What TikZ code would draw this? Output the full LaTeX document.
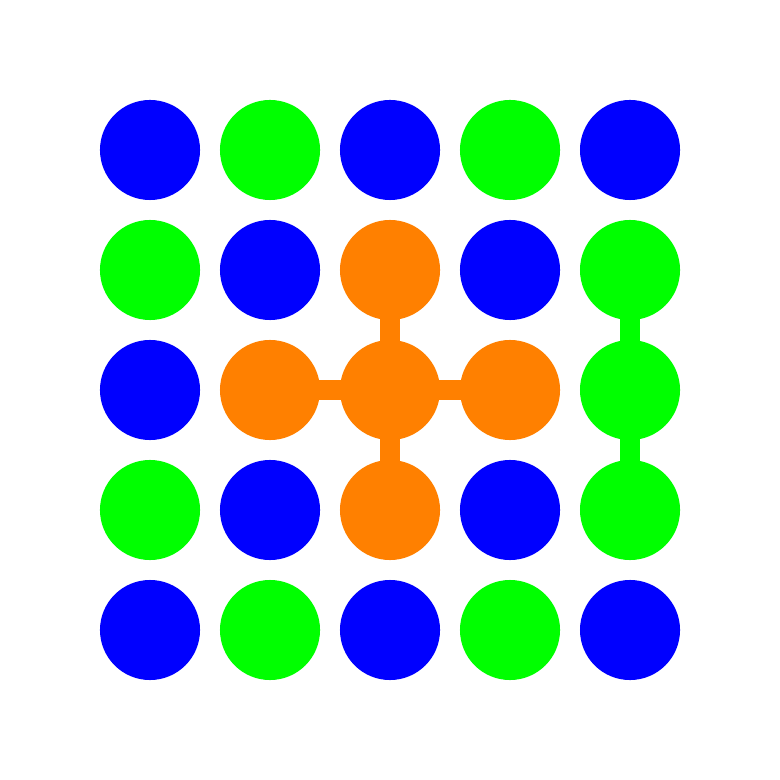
\documentclass[tikz,border=0pt]{standalone}
\usetikzlibrary{backgrounds}
\definecolor{cblue}{RGB}{0,0,255}
\definecolor{cgreen}{RGB}{0,255,0}
\definecolor{corange}{RGB}{255,128,0}
\begin{document}
\begin{tikzpicture}[x=0.01cm,y=-0.01cm,
  dot/.style={circle,minimum size=1cm,inner sep=0pt,draw=none},
  B/.style={dot,fill=cblue},
  G/.style={dot,fill=cgreen},
  O/.style={dot,fill=corange},
  olink/.style={draw=corange,line width=0.2cm},
  glink/.style={draw=cgreen,line width=0.2cm}]
\useasboundingbox (0,0) rectangle (780,780);
\foreach \r/\row in {1/{B,G,B,G,B},2/{G,B,O,B,G},3/{B,O,O,O,G},4/{G,B,O,B,G},5/{B,G,B,G,B}}{
  \foreach \s [count=\c] in \row {
    \node[\s] (n\r\c) at ({30+120*\c},{30+120*\r}) {};
  }
}
\begin{pgfonlayer}{background}
\draw[olink] (n33.center) -- (n23.center);
\draw[olink] (n33.center) -- (n43.center);
\draw[olink] (n33.center) -- (n32.center);
\draw[olink] (n33.center) -- (n34.center);
\draw[glink] (n25.center) -- (n35.center);
\draw[glink] (n35.center) -- (n45.center);
\end{pgfonlayer}
\end{tikzpicture}
\end{document}
